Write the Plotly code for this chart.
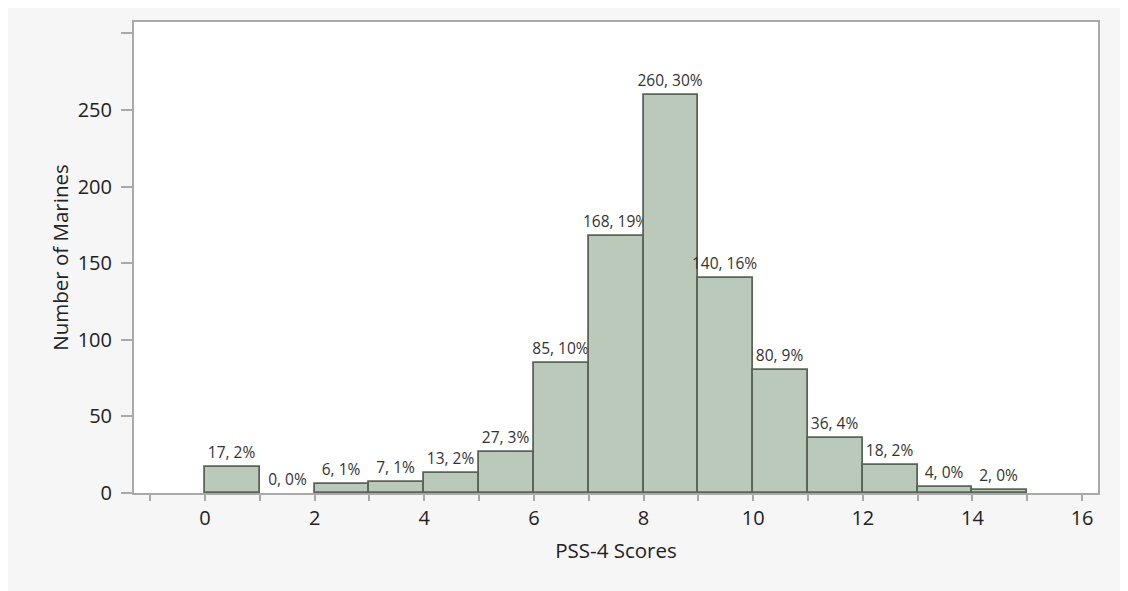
import plotly.graph_objects as go

# Data
bin_starts = [0, 1, 2, 3, 4, 5, 6, 7, 8, 9, 10, 11, 12, 13, 14]
counts = [17, 0, 6, 7, 13, 27, 85, 168, 260, 140, 80, 36, 18, 4, 2]
x_tick_vals = list(range(-1, 17))
x_tick_text = [str(v) if (v >= 0 and v % 2 == 0) else "" for v in x_tick_vals]
y_tick_vals = [0, 50, 100, 150, 200, 250, 300]
y_tick_text = ["0", "50", "100", "150", "200", "250", ""]

total = sum(counts)
labels = [f"{c}, {round(100 * c / total)}%" for c in counts]
outline_widths = [1.8 if c > 0 else 0 for c in counts]

W, H = 1120, 583
ML, MR, MT, MB = 126, 30, 14, 98

FONT = "Open Sans, Segoe UI, DejaVu Sans, sans-serif"

fig = go.Figure(go.Bar(
    x=bin_starts, y=counts, offset=0, width=1,
    marker=dict(color="#bac9b9", line=dict(color="#5b6459", width=outline_widths)),
    text=labels, textposition="outside", constraintext="none", cliponaxis=False,
    textfont=dict(family=FONT, size=15.5, color="#333333"),
    hoverinfo="x+y",
))

fig.update_layout(
    width=W, height=H,
    margin=dict(l=ML, r=MR, t=MT, b=MB, pad=0),
    paper_bgcolor="#f6f6f6", plot_bgcolor="white",
    bargap=0, showlegend=False,
    font=dict(family=FONT, size=20, color="#222222"),
    xaxis=dict(
        range=[-1.295, 16.29], tickmode="array", tickvals=x_tick_vals, ticktext=x_tick_text,
        ticks="outside", ticklen=6, tickwidth=1.5, tickcolor="#a9a9a9",
        showline=True, linecolor="#a9a9a9", linewidth=2, mirror=True,
        showgrid=False, zeroline=False,
        tickfont=dict(size=20, color="#222222"),
        title=dict(text="PSS-4 Scores", font=dict(size=20.5, color="#222222"), standoff=14),
    ),
    yaxis=dict(
        range=[0, 307.4], tickmode="array", tickvals=y_tick_vals, ticktext=y_tick_text,
        ticks="outside", ticklen=11, tickwidth=1.5, tickcolor="#a9a9a9",
        showline=True, linecolor="#a9a9a9", linewidth=2, mirror=True,
        showgrid=False, zeroline=False, ticklabelstandoff=5,
        tickfont=dict(size=20, color="#222222"),
        title=dict(text="Number of Marines", font=dict(size=20.5, color="#222222"), standoff=4),
    ),
)

fig.write_html("out.html")
